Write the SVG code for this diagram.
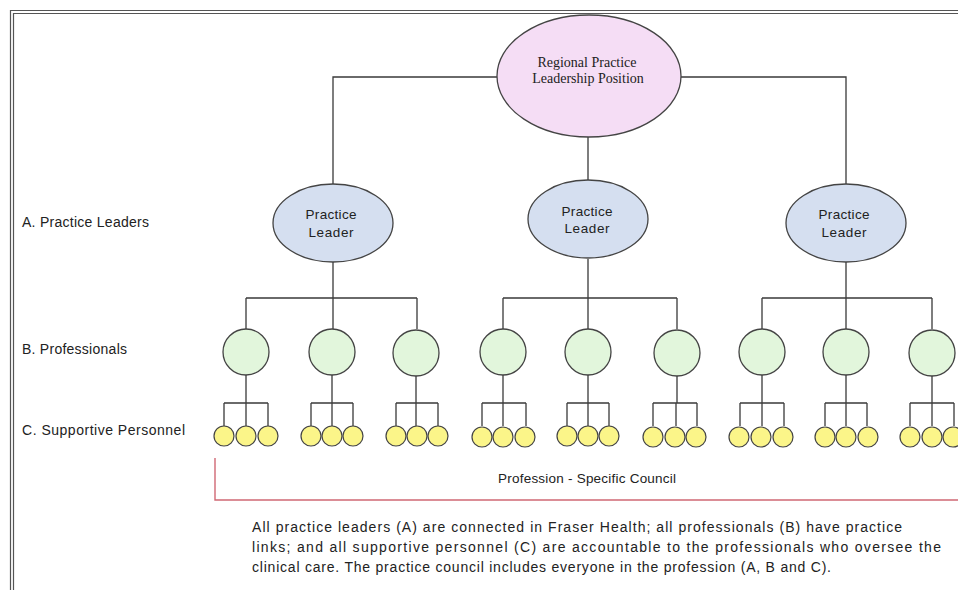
<svg xmlns="http://www.w3.org/2000/svg" width="958" height="590" viewBox="0 0 958 590">
<style>
.frame{fill:none;stroke:#555;stroke-width:1.2}
.conn{fill:none;stroke:#3a3a3a;stroke-width:1.3}
.top{fill:#f5ddf5;stroke:#444;stroke-width:1.3}
.pl{fill:#d5dff0;stroke:#444;stroke-width:1.3}
.pro{fill:#e2f6dc;stroke:#444;stroke-width:1.3}
.sp{fill:#fbf589;stroke:#444;stroke-width:1.2}
.serif{font-family:"Liberation Serif","Times New Roman",serif;font-size:14px;fill:#222}
.sans{font-family:"Liberation Sans",Arial,sans-serif;fill:#222}
.council{fill:none;stroke:#d06874;stroke-width:1.4}
</style>
<rect x="0" y="0" width="958" height="590" fill="#fff"/>
<g id="frame">
<path class="frame" d="M10.5 590 V10.5 H958"/>
<path class="frame" d="M13.5 590 V13.5 H958" stroke="#888"/>
</g>
<g id="connectors">
<path class="conn" d="M497 77 H333 V184 M681 77 H846 V184 M588 137 V180"/>
<path class="conn" d="M333 262 V298 M246 298 H417 M246 298 V329 M333 298 V329 M417 298 V329"/>
<path class="conn" d="M588 259 V298 M503 298 H677 M503 298 V329 M588 298 V329 M677 298 V329"/>
<path class="conn" d="M846 262 V298 M762 298 H932 M762 298 V329 M846 298 V329 M932 298 V329"/>
<path class="conn" d="M246 375 V403 M224 403 H268 M224 403 V426 M246 403 V426 M268 403 V426"/>
<path class="conn" d="M332 375 V403 M311 403 H353 M311 403 V426 M332 403 V426 M353 403 V426"/>
<path class="conn" d="M416 375 V403 M396 403 H438 M396 403 V426 M416 403 V426 M438 403 V426"/>
<path class="conn" d="M503 375 V403" stroke="#2a3a70"/>
<path class="conn" d="M482 403 H526 M482 403 V426 M503 403 V426 M526 403 V426"/>
<path class="conn" d="M588 375 V403 M567 403 H609 M567 403 V426 M588 403 V426 M609 403 V426"/>
<path class="conn" d="M677 375 V403 M653 403 H697 M653 403 V426 M676 403 V426 M697 403 V426"/>
<path class="conn" d="M762 375 V403 M740 403 H784 M740 403 V426 M762 403 V426 M784 403 V426"/>
<path class="conn" d="M846 375 V403 M825 403 H867 M825 403 V426 M846 403 V426 M867 403 V426"/>
<path class="conn" d="M932 375 V403 M910 403 H954 M910 403 V426 M932 403 V426 M954 403 V426"/>
</g>
<g id="regional">
<ellipse class="top" cx="589" cy="76" rx="92" ry="61"/>
<text class="serif" x="587" y="67" text-anchor="middle">Regional Practice</text>
<text class="serif" x="588" y="83" text-anchor="middle">Leadership Position</text>
</g>
<g id="leader-1">
<ellipse class="pl" cx="333" cy="223" rx="60" ry="39"/>
<text class="sans" font-size="13.5" x="331" y="219" text-anchor="middle" textLength="51">Practice</text>
<text class="sans" font-size="13.5" x="331" y="237" text-anchor="middle" textLength="45">Leader</text>
</g>
<g id="leader-2">
<ellipse class="pl" cx="588" cy="219" rx="60" ry="39"/>
<text class="sans" font-size="13.5" x="587" y="216" text-anchor="middle" textLength="51">Practice</text>
<text class="sans" font-size="13.5" x="587" y="233" text-anchor="middle" textLength="45">Leader</text>
</g>
<g id="leader-3">
<ellipse class="pl" cx="846" cy="223" rx="60" ry="39"/>
<text class="sans" font-size="13.5" x="844" y="219" text-anchor="middle" textLength="51">Practice</text>
<text class="sans" font-size="13.5" x="844" y="237" text-anchor="middle" textLength="45">Leader</text>
</g>
<g id="professionals">
<circle class="pro" cx="246" cy="352" r="23"/>
<circle class="pro" cx="332" cy="352" r="23"/>
<circle class="pro" cx="416" cy="353" r="23"/>
<circle class="pro" cx="503" cy="352" r="23"/>
<circle class="pro" cx="588" cy="352" r="23"/>
<circle class="pro" cx="677" cy="353" r="23"/>
<circle class="pro" cx="762" cy="352" r="23"/>
<circle class="pro" cx="846" cy="352" r="23"/>
<circle class="pro" cx="932" cy="353" r="23"/>
</g>
<g id="supportive">
<circle class="sp" cx="224" cy="436" r="10"/><circle class="sp" cx="246" cy="436" r="10"/><circle class="sp" cx="268" cy="436" r="10"/>
<circle class="sp" cx="311" cy="436" r="10"/><circle class="sp" cx="332" cy="436" r="10"/><circle class="sp" cx="353" cy="436" r="10"/>
<circle class="sp" cx="396" cy="436" r="10"/><circle class="sp" cx="417" cy="436" r="10"/><circle class="sp" cx="438" cy="436" r="10"/>
<circle class="sp" cx="482" cy="437" r="10"/><circle class="sp" cx="503" cy="437" r="10"/><circle class="sp" cx="525" cy="437" r="10"/>
<circle class="sp" cx="567" cy="436" r="10"/><circle class="sp" cx="588" cy="436" r="10"/><circle class="sp" cx="609" cy="436" r="10"/>
<circle class="sp" cx="653" cy="437" r="10"/><circle class="sp" cx="675" cy="437" r="10"/><circle class="sp" cx="696" cy="437" r="10"/>
<circle class="sp" cx="739" cy="437" r="10"/><circle class="sp" cx="761" cy="437" r="10"/><circle class="sp" cx="783" cy="437" r="10"/>
<circle class="sp" cx="825" cy="437" r="10"/><circle class="sp" cx="846" cy="437" r="10"/><circle class="sp" cx="868" cy="437" r="10"/>
<circle class="sp" cx="910" cy="437" r="10"/><circle class="sp" cx="932" cy="437" r="10"/><circle class="sp" cx="953" cy="437" r="10"/>
</g>
<g id="level-labels">
<text class="sans" font-size="14" x="22" y="227" textLength="127">A. Practice Leaders</text>
<text class="sans" font-size="14" x="22" y="354" textLength="105">B. Professionals</text>
<text class="sans" font-size="14" x="22" y="435" textLength="163">C. Supportive Personnel</text>
</g>
<g id="council">
<path class="council" d="M215 458 V500 H958"/>
<text class="sans" font-size="13.5" x="498" y="483" textLength="178">Profession - Specific Council</text>
</g>
<g id="caption">
<text class="sans" font-size="14" x="252" y="532" textLength="650">All practice leaders (A) are connected in Fraser Health; all professionals (B) have practice</text>
<text class="sans" font-size="14" x="252" y="552" textLength="689">links; and all supportive personnel (C) are accountable to the professionals who oversee the</text>
<text class="sans" font-size="14" x="252" y="572" textLength="579">clinical care. The practice council includes everyone in the profession (A, B and C).</text>
</g>
</svg>
